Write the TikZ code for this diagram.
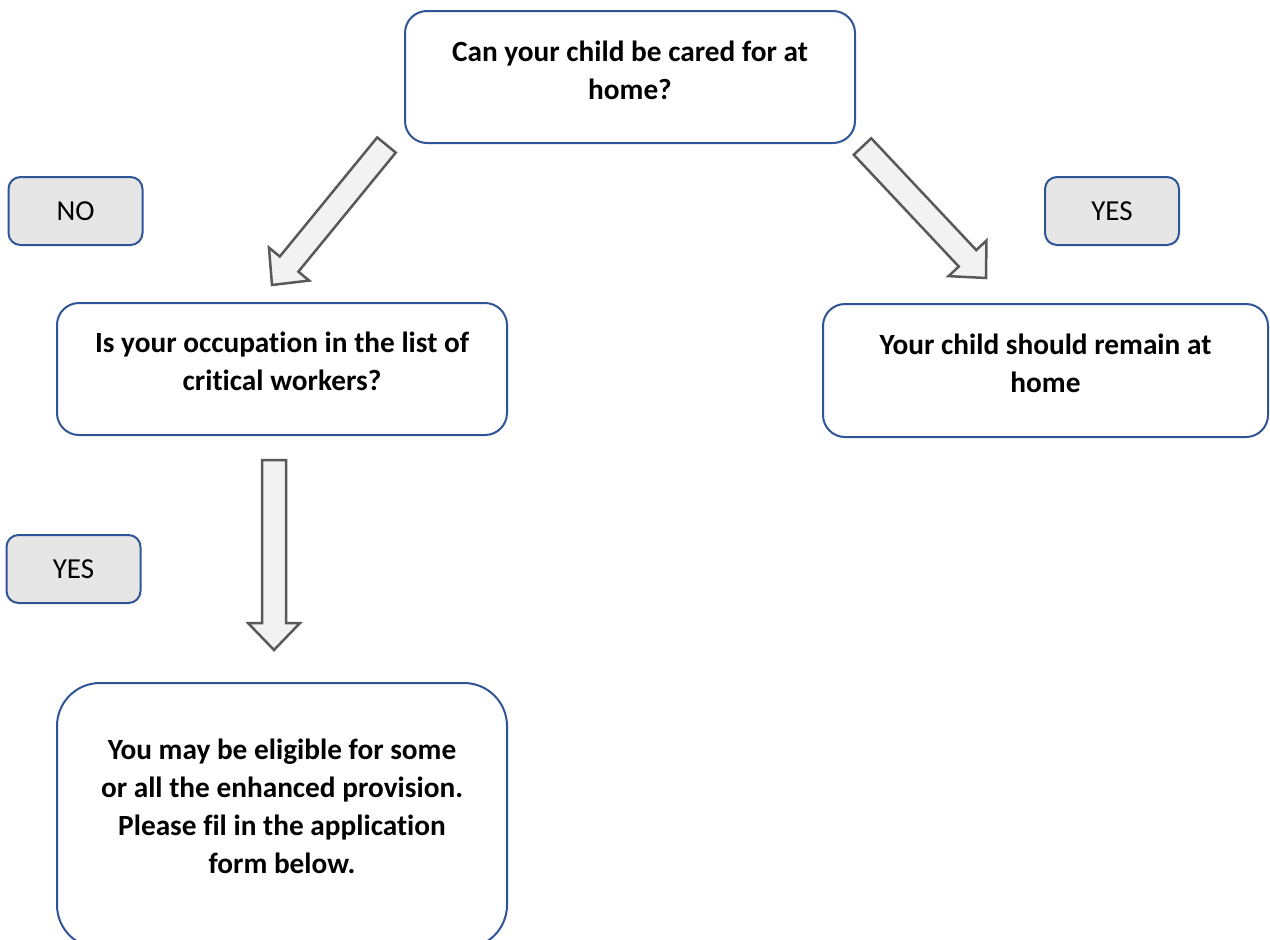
\documentclass[tikz,border=0pt]{standalone}
\usepackage{fontspec}
\setmainfont{Carlito}[Ligatures=CommonOff]
\usetikzlibrary{calc, positioning}
\definecolor{boxblue}{HTML}{2F5597}
\definecolor{taggray}{HTML}{E7E6E6}
\definecolor{arrowfill}{HTML}{F2F2F2}
\definecolor{arrowline}{HTML}{595959}

\begin{document}
\begin{tikzpicture}[x=1pt, y=-1pt,
    question/.style={draw=boxblue, line width=2pt, rounded corners=22pt, fill=white},
    answer/.style={draw=boxblue, line width=2pt, rounded corners=12pt, fill=taggray,
        minimum width=134pt, minimum height=68pt, font=\fontsize{29}{34}\selectfont},
    qtext/.style={align=center, inner sep=0pt, font=\fontsize{29.3}{38}\selectfont\bfseries},
    blockarrow/.style={draw=arrowline, fill=arrowfill, line width=2.5pt, line join=miter,
        to path={let \p1=($(\tikztotarget)-(\tikztostart)$), \n1={atan2(\y1,\x1)} in
          ($(\tikztostart)+(\n1+90:12pt)$)
          -- ($(\tikztotarget)+(\n1+180:27pt)+(\n1+90:12pt)$)
          -- ($(\tikztotarget)+(\n1+180:27pt)+(\n1+90:26pt)$)
          -- (\tikztotarget)
          -- ($(\tikztotarget)+(\n1+180:27pt)+(\n1-90:26pt)$)
          -- ($(\tikztotarget)+(\n1+180:27pt)+(\n1-90:12pt)$)
          -- ($(\tikztostart)+(\n1-90:12pt)$) -- cycle}}]

\useasboundingbox (0,0) rectangle (1270,940);

% questions
\node[question, minimum width=450pt, minimum height=132pt] (care) at (630,77) {};
\node[qtext, below=31pt of care.north] (caretext) {Can your child be cared for at\\home?};

\node[question, minimum width=450pt, minimum height=132pt] (occup) at (282,369) {};
\node[qtext, below=30pt of occup.north] (occuptext) {Is your occupation in the list of\\critical workers?};

\node[question, minimum width=445pt, minimum height=133pt] (remain) at (1045.5,370.5) {};
\node[qtext, below=31pt of remain.north] (remaintext) {Your child should remain at\\home};

\node[question, rounded corners=43pt, minimum width=450pt, minimum height=265pt] (eligible) at (282,815.5) {};
\node[qtext, below=57pt of eligible.north] (eligibletext) {You may be eligible for some\\or all the enhanced provision.\\Please fil in the application\\form below.};

% answers
\node[answer] (no) at (75.5,211) {NO};
\node[answer] (yes1) at (1112,211) {YES};
\node[answer] (yes2) at (73.5,569) {YES};

% arrows
\coordinate (noA) at (386.5,145);
\coordinate (noB) at (272,285);
\coordinate (yesA) at (862.5,146.5);
\coordinate (yesB) at (986,278);
\coordinate (downA) at (274,460);
\coordinate (downB) at (274,650);
\path (noA) edge[blockarrow] (noB)
      (yesA) edge[blockarrow] (yesB)
      (downA) edge[blockarrow] (downB);
\end{tikzpicture}
\end{document}
